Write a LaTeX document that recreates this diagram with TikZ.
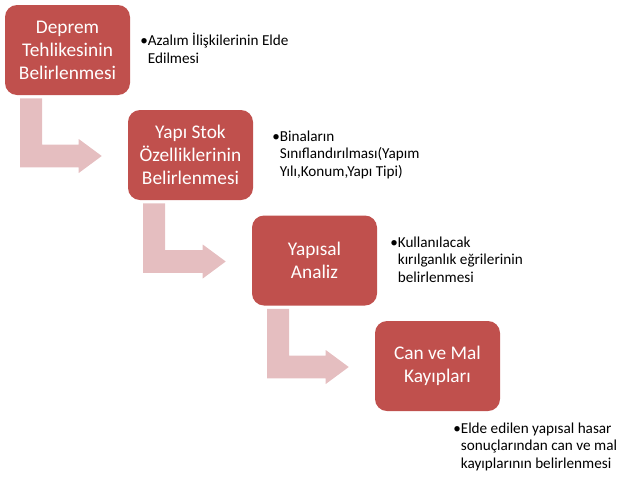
\documentclass[tikz,border=0pt]{standalone}
\usepackage{fontspec}
\setmainfont{Carlito}
\usepackage{xcolor}
\usepackage{tikz}
\usetikzlibrary{calc}

\definecolor{boxred}{HTML}{C0504D}
\definecolor{arrowpink}{RGB}{229,190,192}

\tikzset{
  stepbox/.style={rectangle, rounded corners=9pt, fill=boxred, text=white,
    minimum width=93.75pt, minimum height=67.5pt, inner sep=0pt,
    align=center, font=\fontsize{14.5}{17.25}\selectfont},
  notetext/.style={anchor=base west, align=left, inner sep=0pt,
    font=\fontsize{11.4}{13.1}\selectfont},
  arrowfill/.style={fill=arrowpink}
}

% bent arrow from under one box to the west side of the next one
\newcommand{\flowarrow}[2]{%
  \fill[arrowfill] let \p1=(#1.south west), \p2=(#2.west) in
    (\x1+11.6pt,\y1-2.25pt) -- (\x1+28.1pt,\y1-2.25pt)
    -- (\x1+28.1pt,\y2+7.85pt) -- (\x2-36.75pt,\y2+7.85pt)
    -- (\x2-36.75pt,\y2+12pt) -- (\x2-19.5pt,\y2-0.75pt)
    -- (\x2-36.75pt,\y2-13.5pt) -- (\x2-36.75pt,\y2-9.35pt)
    -- (\x1+11.6pt,\y2-9.35pt) -- cycle;
}
\newcommand{\blt}{\hphantom{\textbullet}}

\begin{document}
\begin{tikzpicture}[x=0.75pt,y=-0.75pt]
        \useasboundingbox (0,0) rectangle (617,479);
        % steps
        \node[stepbox] (tehlike) at (67.5,50) {Deprem\\Tehlikesinin\\Belirlenmesi};
        \node[stepbox] (stok) at (190.5,155) {Yapı Stok\\Özelliklerinin\\Belirlenmesi};
        \node[stepbox] (analiz) at (314.5,260.5) {Yapısal\\Analiz};
        \node[stepbox] (kayip) at (437.5,366) {Can ve Mal\\Kayıpları};
        % notes (anchored at the baseline of their last line)
        \node[notetext] (not1) at (140,63) {\textbullet Azalım İlişkilerinin Elde\\\blt Edilmesi};
        \node[notetext] (not2) at (272,176) {\textbullet Binaların\\\blt Sınıflandırılması(Yapım\\\blt Yılı,Konum,Yapı Tipi)};
        \node[notetext] (not3) at (390,282) {\textbullet Kullanılacak\\\blt kırılganlık eğrilerinin\\\blt belirlenmesi};
        \node[notetext] (not4) at (453,468) {\textbullet Elde edilen yapısal hasar\\\blt sonuçlarından can ve mal\\\blt kayıplarının belirlenmesi};
        % arrows
        \flowarrow{tehlike}{stok}
        \flowarrow{stok}{analiz}
        \flowarrow{analiz}{kayip}
\end{tikzpicture}
\end{document}
